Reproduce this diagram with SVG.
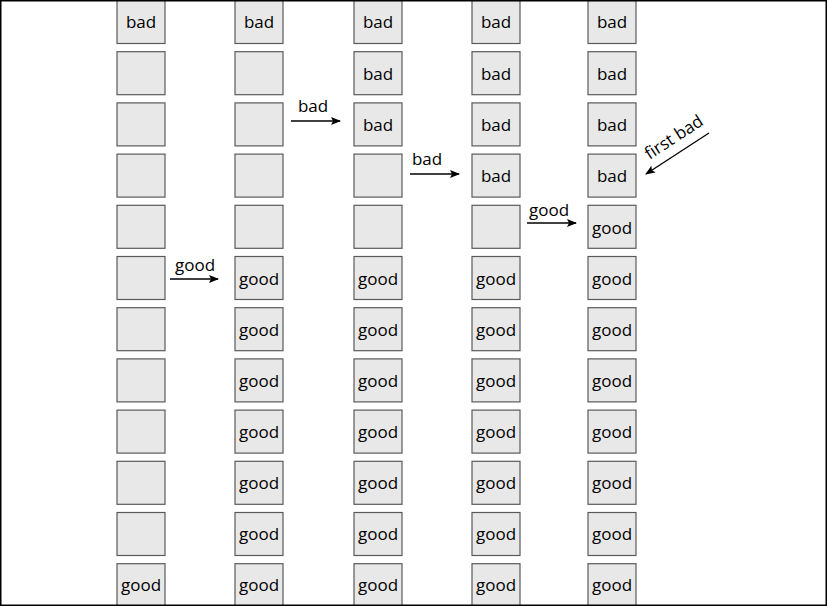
<svg xmlns="http://www.w3.org/2000/svg" width="827" height="606" viewBox="0 0 827 606">
<defs>
<style>
.box{fill:#e8e8e8;stroke:#5a5a5a;stroke-width:1.2}
.t{font-family:"Open Sans","Noto Sans","DejaVu Sans",sans-serif;font-size:17px;fill:#000;text-anchor:middle}
.l{font-family:"Open Sans","Noto Sans","DejaVu Sans",sans-serif;font-size:17px;fill:#000;text-anchor:middle}
.c{stroke:#000;stroke-width:1.3;fill:none;marker-end:url(#ah)}
</style>
<marker id="ah" markerWidth="10" markerHeight="8" refX="9" refY="4" orient="auto" markerUnits="userSpaceOnUse">
<path d="M0,0 L10,4 L0,8 L2,4 Z" fill="#000"/>
</marker>
<symbol id="b" overflow="visible"><rect class="box" x="0" y="0" width="48" height="43"/></symbol>
</defs>
<rect x="0" y="0" width="827" height="606" fill="#fff"/>
<g id="col1">
<g id="c1r1"><use href="#b" x="117" y="0.5"/><text class="t" x="141" y="28">bad</text></g>
<g id="c1r2"><use href="#b" x="117" y="51.7"/></g>
<g id="c1r3"><use href="#b" x="117" y="102.9"/></g>
<g id="c1r4"><use href="#b" x="117" y="154.1"/></g>
<g id="c1r5"><use href="#b" x="117" y="205.3"/></g>
<g id="c1r6"><use href="#b" x="117" y="256.5"/></g>
<g id="c1r7"><use href="#b" x="117" y="307.7"/></g>
<g id="c1r8"><use href="#b" x="117" y="358.9"/></g>
<g id="c1r9"><use href="#b" x="117" y="410.1"/></g>
<g id="c1r10"><use href="#b" x="117" y="461.3"/></g>
<g id="c1r11"><use href="#b" x="117" y="512.5"/></g>
<g id="c1r12"><use href="#b" x="117" y="563.7"/><text class="t" x="141" y="591">good</text></g>
</g>
<g id="col2">
<g id="c2r1"><use href="#b" x="235" y="0.5"/><text class="t" x="259" y="28">bad</text></g>
<g id="c2r2"><use href="#b" x="235" y="51.7"/></g>
<g id="c2r3"><use href="#b" x="235" y="102.9"/></g>
<g id="c2r4"><use href="#b" x="235" y="154.1"/></g>
<g id="c2r5"><use href="#b" x="235" y="205.3"/></g>
<g id="c2r6"><use href="#b" x="235" y="256.5"/><text class="t" x="259" y="285">good</text></g>
<g id="c2r7"><use href="#b" x="235" y="307.7"/><text class="t" x="259" y="336">good</text></g>
<g id="c2r8"><use href="#b" x="235" y="358.9"/><text class="t" x="259" y="387">good</text></g>
<g id="c2r9"><use href="#b" x="235" y="410.1"/><text class="t" x="259" y="438">good</text></g>
<g id="c2r10"><use href="#b" x="235" y="461.3"/><text class="t" x="259" y="489">good</text></g>
<g id="c2r11"><use href="#b" x="235" y="512.5"/><text class="t" x="259" y="540">good</text></g>
<g id="c2r12"><use href="#b" x="235" y="563.7"/><text class="t" x="259" y="591">good</text></g>
</g>
<g id="col3">
<g id="c3r1"><use href="#b" x="354" y="0.5"/><text class="t" x="378" y="28">bad</text></g>
<g id="c3r2"><use href="#b" x="354" y="51.7"/><text class="t" x="378" y="80">bad</text></g>
<g id="c3r3"><use href="#b" x="354" y="102.9"/><text class="t" x="378" y="131">bad</text></g>
<g id="c3r4"><use href="#b" x="354" y="154.1"/></g>
<g id="c3r5"><use href="#b" x="354" y="205.3"/></g>
<g id="c3r6"><use href="#b" x="354" y="256.5"/><text class="t" x="378" y="285">good</text></g>
<g id="c3r7"><use href="#b" x="354" y="307.7"/><text class="t" x="378" y="336">good</text></g>
<g id="c3r8"><use href="#b" x="354" y="358.9"/><text class="t" x="378" y="387">good</text></g>
<g id="c3r9"><use href="#b" x="354" y="410.1"/><text class="t" x="378" y="438">good</text></g>
<g id="c3r10"><use href="#b" x="354" y="461.3"/><text class="t" x="378" y="489">good</text></g>
<g id="c3r11"><use href="#b" x="354" y="512.5"/><text class="t" x="378" y="540">good</text></g>
<g id="c3r12"><use href="#b" x="354" y="563.7"/><text class="t" x="378" y="591">good</text></g>
</g>
<g id="col4">
<g id="c4r1"><use href="#b" x="472" y="0.5"/><text class="t" x="496" y="28">bad</text></g>
<g id="c4r2"><use href="#b" x="472" y="51.7"/><text class="t" x="496" y="80">bad</text></g>
<g id="c4r3"><use href="#b" x="472" y="102.9"/><text class="t" x="496" y="131">bad</text></g>
<g id="c4r4"><use href="#b" x="472" y="154.1"/><text class="t" x="496" y="182">bad</text></g>
<g id="c4r5"><use href="#b" x="472" y="205.3"/></g>
<g id="c4r6"><use href="#b" x="472" y="256.5"/><text class="t" x="496" y="285">good</text></g>
<g id="c4r7"><use href="#b" x="472" y="307.7"/><text class="t" x="496" y="336">good</text></g>
<g id="c4r8"><use href="#b" x="472" y="358.9"/><text class="t" x="496" y="387">good</text></g>
<g id="c4r9"><use href="#b" x="472" y="410.1"/><text class="t" x="496" y="438">good</text></g>
<g id="c4r10"><use href="#b" x="472" y="461.3"/><text class="t" x="496" y="489">good</text></g>
<g id="c4r11"><use href="#b" x="472" y="512.5"/><text class="t" x="496" y="540">good</text></g>
<g id="c4r12"><use href="#b" x="472" y="563.7"/><text class="t" x="496" y="591">good</text></g>
</g>
<g id="col5">
<g id="c5r1"><use href="#b" x="588" y="0.5"/><text class="t" x="612" y="28">bad</text></g>
<g id="c5r2"><use href="#b" x="588" y="51.7"/><text class="t" x="612" y="80">bad</text></g>
<g id="c5r3"><use href="#b" x="588" y="102.9"/><text class="t" x="612" y="131">bad</text></g>
<g id="c5r4"><use href="#b" x="588" y="154.1"/><text class="t" x="612" y="182">bad</text></g>
<g id="c5r5"><use href="#b" x="588" y="205.3"/><text class="t" x="612" y="234">good</text></g>
<g id="c5r6"><use href="#b" x="588" y="256.5"/><text class="t" x="612" y="285">good</text></g>
<g id="c5r7"><use href="#b" x="588" y="307.7"/><text class="t" x="612" y="336">good</text></g>
<g id="c5r8"><use href="#b" x="588" y="358.9"/><text class="t" x="612" y="387">good</text></g>
<g id="c5r9"><use href="#b" x="588" y="410.1"/><text class="t" x="612" y="438">good</text></g>
<g id="c5r10"><use href="#b" x="588" y="461.3"/><text class="t" x="612" y="489">good</text></g>
<g id="c5r11"><use href="#b" x="588" y="512.5"/><text class="t" x="612" y="540">good</text></g>
<g id="c5r12"><use href="#b" x="588" y="563.7"/><text class="t" x="612" y="591">good</text></g>
</g>
<g id="connectors">
<line class="c" x1="170" y1="279" x2="218" y2="279"/>
<text class="l" x="195" y="271">good</text>
<line class="c" x1="291" y1="121" x2="340" y2="121"/>
<text class="l" x="313" y="112">bad</text>
<line class="c" x1="410" y1="174" x2="459" y2="174"/>
<text class="l" x="427" y="165">bad</text>
<line class="c" x1="527" y1="223" x2="576" y2="223"/>
<text class="l" x="549" y="216">good</text>
<line class="c" x1="709" y1="133" x2="646" y2="174"/>
<text class="l" transform="translate(677,142) rotate(-33)">first bad</text>
</g>
<rect x="0.75" y="0.75" width="825.5" height="604.5" fill="none" stroke="#000" stroke-width="1.5"/>
</svg>
